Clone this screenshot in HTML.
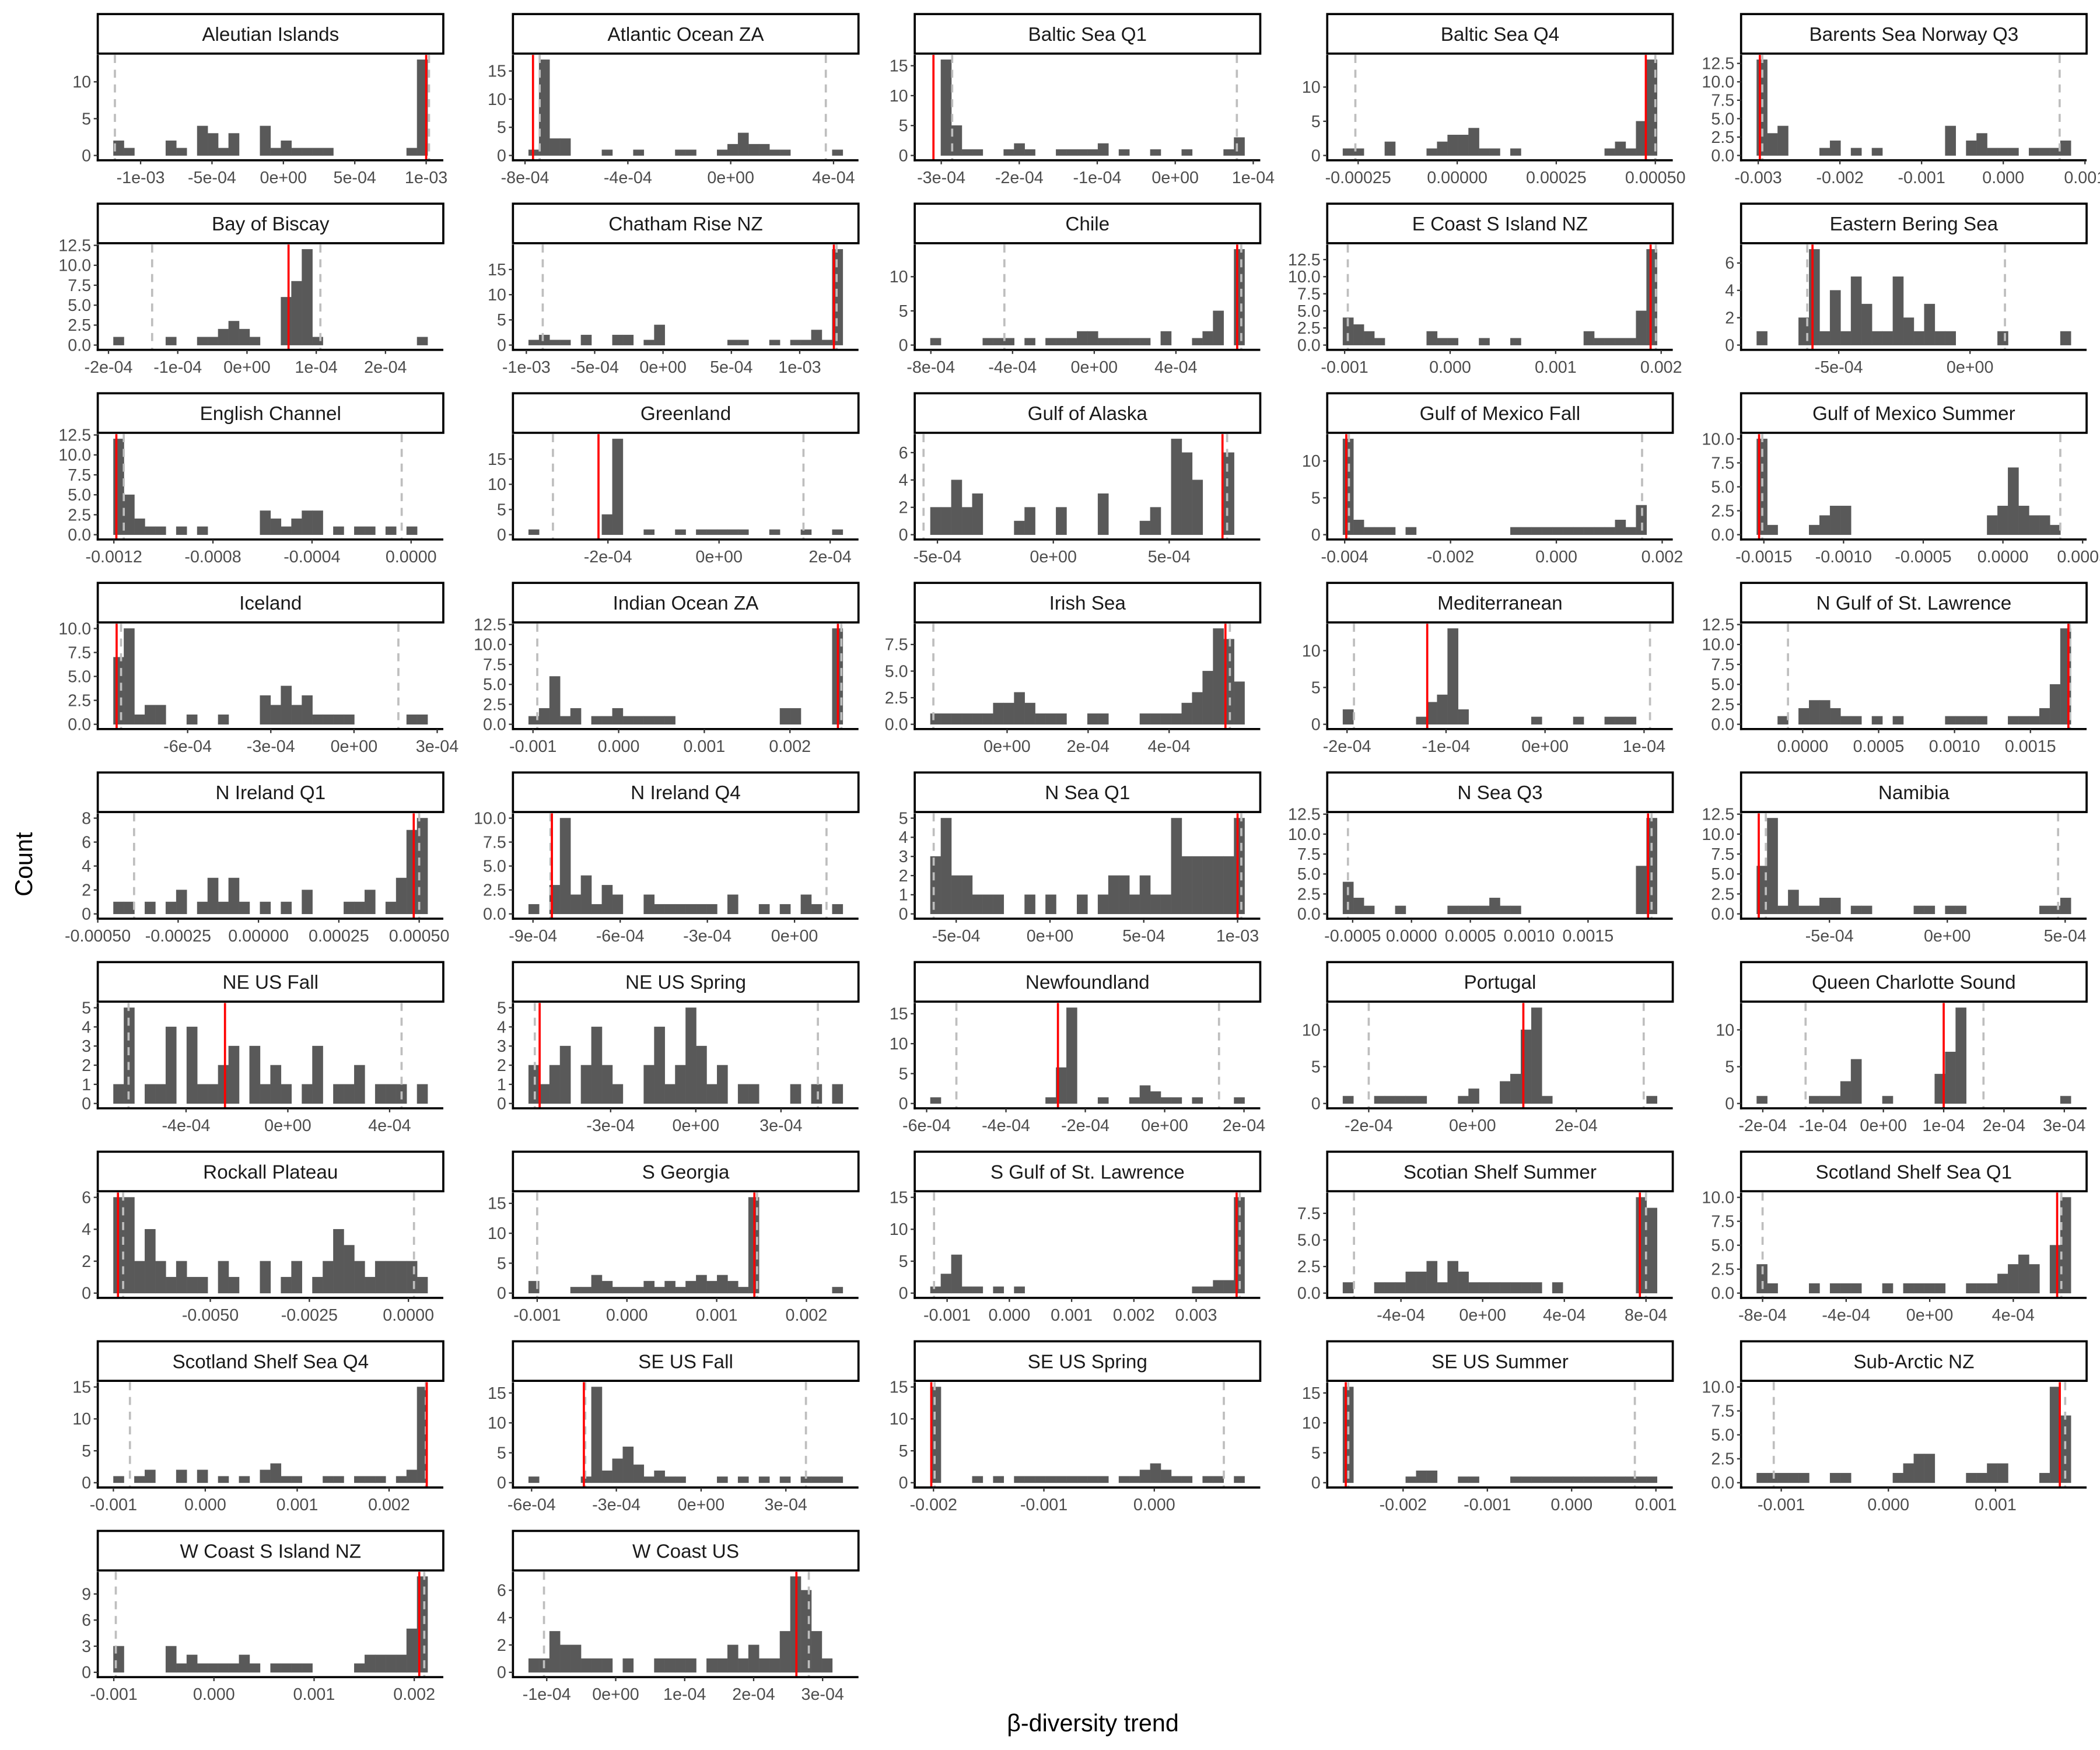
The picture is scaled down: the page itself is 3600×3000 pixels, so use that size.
<!DOCTYPE html>
<html><head><meta charset="utf-8"><title>β-diversity trend histograms</title>
<style>
html,body{margin:0;padding:0;background:#fff;}
svg{display:block;font-family:"Liberation Sans",Arial,sans-serif;}
</style></head>
<body>
<svg id="chart" width="3600" height="3000" viewBox="0 0 1568 1306" preserveAspectRatio="none" xmlns="http://www.w3.org/2000/svg">
<rect x="0" y="0" width="1568" height="1306" fill="#fff"/>
<text x="816" y="1292" font-size="18" text-anchor="middle" fill="#000">β-diversity trend</text>
<text x="24" y="645" font-size="18" text-anchor="middle" fill="#000" transform="rotate(-90 24 645)">Count</text>
<g id="panels"></g>
</svg>
<script>
const titles = ["Aleutian Islands","Atlantic Ocean ZA","Baltic Sea Q1","Baltic Sea Q4","Barents Sea Norway Q3",
"Bay of Biscay","Chatham Rise NZ","Chile","E Coast S Island NZ","Eastern Bering Sea",
"English Channel","Greenland","Gulf of Alaska","Gulf of Mexico Fall","Gulf of Mexico Summer",
"Iceland","Indian Ocean ZA","Irish Sea","Mediterranean","N Gulf of St. Lawrence",
"N Ireland Q1","N Ireland Q4","N Sea Q1","N Sea Q3","Namibia",
"NE US Fall","NE US Spring","Newfoundland","Portugal","Queen Charlotte Sound",
"Rockall Plateau","S Georgia","S Gulf of St. Lawrence","Scotian Shelf Summer","Scotland Shelf Sea Q1",
"Scotland Shelf Sea Q4","SE US Fall","SE US Spring","SE US Summer","Sub-Arctic NZ",
"W Coast S Island NZ","W Coast US"];
// axis domains (in panel units)
const domains = [[-13.0,11.2],[-8.47,4.97],[-3.34,1.09],[-32.8,54.4],[-32.1,10.2],
[-2.155,2.835],[-10.98,14.3],[-8.79,8.13],[-11.65,21.1],[-8.72,4.44],
[-12.65,1.3],[-3.71,2.51],[-5.98,8.93],[-4.33,2.2],[-16.43,5.25],
[-9.24,3.22],[-1.234,2.8],[-2.28,6.25],[-2.2,1.29],[-4.06,18.7],
[-50,57.5],[-9.69,2.2],[-7.21,11.21],[-7.16,22.2],[-8.75,5.91],
[-7.47,6.11],[-6.44,5.73],[-6.3,2.41],[-2.8,3.86],[-2.36,3.37],
[-78.4,8.8],[-1.27,2.58],[-1.52,4.03],[-7.61,9.31],[-9.03,7.51],
[-1.17,2.59],[-6.66,5.57],[-2.17,0.96],[-2.9,1.2],[-1.375,1.85],
[-1.16,2.29],[-1.49,3.52]];
const xTickVals = [[-10,-5,0,5,10],[-8,-4,0,4],[-3,-2,-1,0,1],[-25,0,25,50],[-30,-20,-10,0,10],
[-2,-1,0,1,2],[-10,-5,0,5,10],[-8,-4,0,4],[-10,0,10,20],[-5,0],
[-12,-8,-4,0],[-2,0,2],[-5,0,5],[-4,-2,0,2],[-15,-10,-5,0,5],
[-6,-3,0,3],[-1,0,1,2],[0,2,4],[-2,-1,0,1],[0,5,10,15],
[-50,-25,0,25,50],[-9,-6,-3,0],[-5,0,5,10],[-5,0,5,10,15],[-5,0,5],
[-4,0,4],[-3,0,3],[-6,-4,-2,0,2],[-2,0,2],[-2,-1,0,1,2,3],
[-50,-25,0],[-1,0,1,2],[-1,0,1,2,3],[-4,0,4,8],[-8,-4,0,4],
[-1,0,1,2],[-6,-3,0,3],[-2,-1,0],[-2,-1,0,1],[-1,0,1],
[-1,0,1,2],[-1,0,1,2,3]];
const xTickLabels = [["-1e-03","-5e-04","0e+00","5e-04","1e-03"],["-8e-04","-4e-04","0e+00","4e-04"],["-3e-04","-2e-04","-1e-04","0e+00","1e-04"],["-0.00025","0.00000","0.00025","0.00050"],["-0.003","-0.002","-0.001","0.000","0.001"],
["-2e-04","-1e-04","0e+00","1e-04","2e-04"],["-1e-03","-5e-04","0e+00","5e-04","1e-03"],["-8e-04","-4e-04","0e+00","4e-04"],["-0.001","0.000","0.001","0.002"],["-5e-04","0e+00"],
["-0.0012","-0.0008","-0.0004","0.0000"],["-2e-04","0e+00","2e-04"],["-5e-04","0e+00","5e-04"],["-0.004","-0.002","0.000","0.002"],["-0.0015","-0.0010","-0.0005","0.0000","0.0005"],
["-6e-04","-3e-04","0e+00","3e-04"],["-0.001","0.000","0.001","0.002"],["0e+00","2e-04","4e-04"],["-2e-04","-1e-04","0e+00","1e-04"],["0.0000","0.0005","0.0010","0.0015"],
["-0.00050","-0.00025","0.00000","0.00025","0.00050"],["-9e-04","-6e-04","-3e-04","0e+00"],["-5e-04","0e+00","5e-04","1e-03"],["-0.0005","0.0000","0.0005","0.0010","0.0015"],["-5e-04","0e+00","5e-04"],
["-4e-04","0e+00","4e-04"],["-3e-04","0e+00","3e-04"],["-6e-04","-4e-04","-2e-04","0e+00","2e-04"],["-2e-04","0e+00","2e-04"],["-2e-04","-1e-04","0e+00","1e-04","2e-04","3e-04"],
["-0.0050","-0.0025","0.0000"],["-0.001","0.000","0.001","0.002"],["-0.001","0.000","0.001","0.002","0.003"],["-4e-04","0e+00","4e-04","8e-04"],["-8e-04","-4e-04","0e+00","4e-04"],
["-0.001","0.000","0.001","0.002"],["-6e-04","-3e-04","0e+00","3e-04"],["-0.002","-0.001","0.000"],["-0.002","-0.001","0.000","0.001"],["-0.001","0.000","0.001"],
["-0.001","0.000","0.001","0.002"],["-1e-04","0e+00","1e-04","2e-04","3e-04"]];
const T5=[0,5,10], T15=[0,5,10,15], T125=[0,2.5,5,7.5,10,12.5], T10=[0,2.5,5,7.5,10];
const yTicks = [T5,T15,T15,T5,T125,
T125,T15,T5,T125,[0,2,4,6],
T125,T15,[0,2,4,6],T5,T10,
T10,T125,[0,2.5,5,7.5],T5,T125,
[0,2,4,6,8],T10,[0,1,2,3,4,5],T125,T125,
[0,1,2,3,4,5],[0,1,2,3,4,5],T15,T5,T5,
[0,2,4,6],T15,T15,[0,2.5,5,7.5],T10,
T15,T15,T15,T15,T10,
[0,3,6,9],[0,2,4,6]];
const counts = [
[2,1,0,0,0,2,1,0,4,3,1,3,0,0,4,1,2,1,1,1,1,0,0,0,0,0,0,0,1,13],
[1,17,3,3,0,0,0,1,0,0,1,0,0,0,1,1,0,0,1,2,4,2,2,1,1,0,0,0,0,1],
[0,16,5,1,1,0,0,1,2,1,0,0,1,1,1,1,2,0,1,0,0,1,0,0,1,0,0,0,1,3],
[1,1,0,0,2,0,0,0,1,2,3,3,4,1,1,0,1,0,0,0,0,0,0,0,0,1,2,1,5,14],
[13,3,4,0,0,0,1,2,0,1,0,1,0,0,0,0,0,0,4,0,2,3,1,1,1,0,1,1,1,2],
[1,0,0,0,0,1,0,0,1,1,2,3,2,1,0,0,6,8,12,1,0,0,0,0,0,0,0,0,0,1],
[1,2,1,1,0,2,0,0,2,2,0,1,4,0,0,0,0,0,0,1,1,0,0,1,0,1,1,3,1,19],
[1,0,0,0,0,1,1,1,0,1,0,1,1,1,2,2,1,1,1,1,1,0,2,0,0,1,2,5,0,14],
[4,3,2,1,0,0,0,0,2,1,1,0,0,1,0,0,1,0,0,0,0,0,0,2,1,1,1,1,5,14],
[1,0,0,0,2,7,1,4,1,5,3,1,1,5,2,1,3,1,1,0,0,0,0,1,0,0,0,0,0,1],
[12,5,2,1,1,0,1,0,1,0,0,0,0,0,3,2,1,2,3,3,0,1,0,1,1,0,1,0,1,0],
[1,0,0,0,0,0,0,4,19,0,0,1,0,0,1,0,1,1,1,1,1,0,0,1,0,0,1,0,0,1],
[2,2,4,2,3,0,0,0,1,2,0,0,2,0,0,0,3,0,0,0,1,2,0,7,6,4,0,0,6,0],
[13,2,1,1,1,0,1,0,0,0,0,0,0,0,0,0,1,1,1,1,1,1,1,1,1,1,2,1,4,0],
[10,1,0,0,0,1,2,3,3,0,0,0,0,0,0,0,0,0,0,0,0,0,2,3,7,3,2,2,1,0],
[7,10,1,2,2,0,0,1,0,0,1,0,0,0,3,2,4,2,3,1,1,1,1,0,0,0,0,0,1,1],
[1,2,6,1,2,0,1,1,2,1,1,1,1,1,0,0,0,0,0,0,0,0,0,0,2,2,0,0,0,12],
[1,1,1,1,1,1,2,2,3,2,1,1,1,0,0,1,1,0,0,0,1,1,1,1,2,3,5,9,8,4],
[2,0,0,0,0,0,0,1,3,4,13,2,0,0,0,0,0,0,1,0,0,0,1,0,0,1,1,1,0,0],
[0,0,1,0,2,3,3,2,1,1,0,1,0,1,0,0,0,0,1,1,1,1,0,0,1,1,1,2,5,12],
[1,1,0,1,0,1,2,0,1,3,1,3,1,0,1,0,1,0,2,0,0,0,1,1,2,0,1,3,7,8],
[1,0,3,10,2,4,1,3,2,0,0,2,1,1,1,1,1,1,0,2,0,0,1,0,1,0,2,1,0,1],
[3,5,2,2,1,1,1,0,0,1,0,1,0,0,1,0,1,2,2,1,2,1,1,5,3,3,3,3,3,5],
[4,2,1,0,0,1,0,0,0,0,1,1,1,1,2,1,1,0,0,0,0,0,0,0,0,0,0,0,6,12],
[6,12,1,3,1,1,2,2,0,1,1,0,0,0,0,1,1,0,1,1,0,0,0,0,0,0,0,1,1,2],
[1,5,0,1,1,4,0,4,1,1,2,3,0,3,1,2,1,0,1,3,0,1,1,2,0,1,1,1,0,1],
[2,1,2,3,0,2,4,2,1,0,0,2,4,1,2,5,3,1,2,0,1,1,0,0,0,1,0,1,0,1],
[1,0,0,0,0,0,0,0,0,0,0,1,6,16,0,0,1,0,0,1,3,2,1,1,0,1,0,0,0,1],
[1,0,0,1,1,1,1,1,0,0,0,1,2,0,0,3,4,10,13,1,0,0,0,0,0,0,0,0,0,1],
[1,0,0,0,0,1,1,1,3,6,0,0,1,0,0,0,0,4,7,13,0,0,0,0,0,0,0,0,0,1],
[6,6,2,4,2,1,2,1,1,0,2,1,0,0,2,0,1,2,0,1,2,4,3,2,1,2,2,2,2,1],
[2,0,0,0,1,1,3,2,1,1,1,2,1,2,1,2,3,2,3,2,1,16,0,0,0,0,0,0,0,1],
[1,3,6,1,1,0,1,0,1,0,0,0,0,0,0,0,0,0,0,0,0,0,0,0,0,1,1,2,2,15],
[1,0,0,1,1,1,2,2,3,1,3,2,1,1,1,1,1,1,1,0,1,0,0,0,0,0,0,0,9,8],
[3,1,0,0,0,1,0,1,1,1,0,0,1,0,1,1,1,1,0,0,1,1,1,2,3,4,3,0,5,10],
[1,0,1,2,0,0,2,0,2,0,1,0,1,0,2,3,1,1,0,0,1,1,0,1,1,1,0,1,2,15],
[1,0,0,0,0,1,16,2,4,6,3,1,2,1,1,0,0,0,1,0,1,0,1,0,1,0,1,1,1,1],
[15,0,0,0,1,0,1,0,1,1,1,1,1,1,1,1,1,0,1,1,2,3,2,1,1,0,1,1,0,1],
[16,0,0,0,0,0,1,2,2,0,0,1,1,0,0,0,1,1,1,1,1,1,1,1,1,1,1,1,1,1],
[1,1,1,1,1,0,0,1,1,0,0,0,0,1,2,3,3,0,0,0,1,1,2,2,0,0,0,1,10,7],
[3,0,0,0,0,3,1,2,1,1,1,1,2,1,0,1,1,1,1,0,0,0,0,1,2,2,2,2,5,11],
[1,1,3,2,2,1,1,1,0,1,0,0,1,1,1,1,0,1,1,2,1,2,1,1,3,7,6,3,1,0]];
const redLines = [10.0,-7.69,-3.10,47.6,-29.8, 0.60,12.5,7.0,19.0,-6.0, -11.9,-2.17,7.3,-3.97,-15.3,
-8.56,2.56,5.39,-1.19,17.5, 48.3,-8.35,10.0,20.1,-8.0, -2.47,-5.5,-2.69,0.98,1.0,
-73.3,1.42,3.65,7.7,6.1, 2.41,-4.15,-2.02,-2.68,1.6, 2.05,2.62];
const dashLo = [-11.8,-7.43,-2.86,-25.7,-29.5, -1.37,-8.8,-4.4,-9.7,-6.2, -11.6,-2.99,-5.6,-3.92,-15.1,
-8.4,-0.95,-1.82,-1.93,-0.97, -38.7,-8.4,-6.2,-5.4,-7.7, -6.26,-5.67,-5.25,-2.0,-1.29,
-72.0,-1.0,-1.21,-6.3,-8.0, -0.82,-4.1,-1.99,-2.65,-1.07, -0.98,-1.04];
const dashHi = [10.2,3.7,0.79,50.0,6.9, 1.06,12.7,7.2,19.5,1.33, -0.38,1.52,7.5,1.62,3.6,
1.6,2.6,5.5,1.06,17.6, 50.0,1.1,10.2,20.4,4.7, 4.47,4.3,1.37,3.3,1.66,
1.4,1.45,3.7,8.0,6.3, 2.4,3.71,0.63,0.75,1.65, 2.1,2.8];

const NS = "http://www.w3.org/2000/svg";
const colX = [73,383,683,991,1300];
const PW = 258, ROWH = 141.5, PTOP = 41, PBOT = 119.6;
const root = document.getElementById('panels');
function mk(tag, attrs, parent){const e=document.createElementNS(NS,tag);for(const k in attrs)e.setAttribute(k,attrs[k]);parent.appendChild(e);return e;}
function slug(s){return s.toLowerCase().replace(/[^a-z0-9]+/g,'-').replace(/^-|-$/g,'');}

titles.forEach((title,p)=>{
  const col=p%5,row=Math.floor(p/5);
  const x0=colX[col], y0=PTOP+row*ROWH, y1=PBOT+row*ROWH;
  const [a,b]=domains[p];
  const sx=v=>x0+(v-a)/(b-a)*PW;
  const cnt=counts[p];
  const ymax=Math.max(...cnt);
  const ylo=-0.05*ymax, yhi=1.05*ymax;
  const sy=v=>y1-(v-ylo)/(yhi-ylo)*(y1-y0);
  const g=mk('g',{},root);
  
  
  const strip=mk('rect',{x:x0,y:y0-30.5,width:PW,height:29.5,fill:'#fff',stroke:'#000','stroke-width':1.6},g);
  
  
  const st=mk('text',{x:x0+PW/2,y:y0-10.5,'font-size':14.5,'text-anchor':'middle',fill:'#1a1a1a'},g);
  st.textContent=title;
  
  
  const lo=a+(b-a)*0.05/1.1, hi=b-(b-a)*0.05/1.1, bw=(hi-lo)/cnt.length;
  cnt.forEach((c,i)=>{
    if(c<=0)return;
    const bx=sx(lo+i*bw), bx2=sx(lo+(i+1)*bw);
    const r=mk('rect',{x:bx,y:sy(c),width:bx2-bx,height:sy(0)-sy(c),fill:'#595959',stroke:'#5e5e5e','stroke-width':0.3},g);
    
    
  });
  [dashLo[p],dashHi[p]].forEach(v=>{
    const l=mk('line',{x1:sx(v),x2:sx(v),y1:y0,y2:y1,stroke:'#bebebe','stroke-width':1.6,'stroke-dasharray':'6,5'},g);
    
    
  });
  const rl=mk('line',{x1:sx(redLines[p]),x2:sx(redLines[p]),y1:y0,y2:y1,stroke:'#ff0000','stroke-width':1.6},g);
  
  
  mk('line',{x1:x0,x2:x0,y1:y0,y2:y1+0.8,stroke:'#000','stroke-width':1.6},g);
  mk('line',{x1:x0-0.8,x2:x0+PW,y1:y1,y2:y1,stroke:'#000','stroke-width':1.6},g);
  const yt=yTicks[p], dec=yt.some(v=>v%1!==0);
  yt.forEach(v=>{
    const y=sy(v);
    mk('line',{x1:x0-3,x2:x0,y1:y,y2:y,stroke:'#333','stroke-width':1},g);
    const t=mk('text',{x:x0-5,y:y+4.3,'font-size':12.5,'text-anchor':'end',fill:'#4d4d4d'},g);
    t.textContent=dec?v.toFixed(1):String(v);
    
    
  });
  xTickVals[p].forEach((v,i)=>{
    const x=sx(v);
    mk('line',{x1:x,x2:x,y1:y1,y2:y1+3,stroke:'#333','stroke-width':1},g);
    const t=mk('text',{x:x,y:y1+17,'font-size':12.5,'text-anchor':'middle',fill:'#4d4d4d'},g);
    t.textContent=xTickLabels[p][i];
    
    
  });
});
</script>
</body></html>
